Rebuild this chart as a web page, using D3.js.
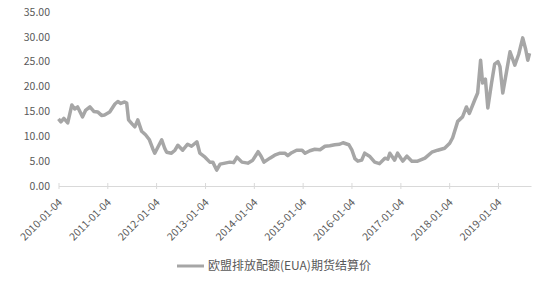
<!DOCTYPE html>
<html>
<head>
<meta charset="utf-8">
<script src="https://cdn.jsdelivr.net/npm/d3@7"></script>
<style>
  body { margin: 0; background: #fff; }
  text { font-family: "Noto Sans CJK SC", "Noto Sans", sans-serif; fill: #595959; }
</style>
</head>
<body>
<div id="viz"></div>
<script>
// EUA futures settlement price
var dates = ["2010-01-04","2010-01-22","2010-02-13","2010-03-14","2010-04-14","2010-05-05","2010-05-27","2010-07-03","2010-07-25","2010-08-27",
  "2010-09-25","2010-10-24","2010-11-22","2010-12-14","2011-01-22","2011-03-02","2011-03-24","2011-04-15","2011-05-14","2011-05-29",
  "2011-06-12","2011-07-08","2011-07-29","2011-08-20","2011-09-18","2011-10-17","2011-11-15","2011-12-10","2011-12-25","2012-01-17",
  "2012-02-15","2012-03-08","2012-03-23","2012-04-28","2012-05-24","2012-06-15","2012-07-21","2012-08-27","2012-09-25","2012-11-04",
  "2012-11-26","2013-01-04","2013-02-09","2013-03-03","2013-04-01","2013-04-27","2013-06-02","2013-07-08","2013-08-06","2013-08-31",
  "2013-10-07","2013-11-20","2013-12-27","2014-02-05","2014-02-27","2014-03-21","2014-05-04","2014-06-09","2014-07-19","2014-08-24",
  "2014-09-15","2014-10-14","2014-11-20","2014-12-31","2015-01-22","2015-02-27","2015-04-05","2015-05-14","2015-06-20","2015-07-26",
  "2015-09-01","2015-10-08","2015-11-02","2015-11-24","2015-12-16","2016-01-08","2016-01-30","2016-02-21","2016-03-21","2016-04-12",
  "2016-05-18","2016-06-26","2016-08-01","2016-09-10","2016-10-02","2016-10-17","2016-11-22","2016-12-14","2017-01-22","2017-02-22",
  "2017-03-31","2017-05-13","2017-07-07","2017-08-27","2017-10-10","2017-12-01","2018-01-08","2018-01-30","2018-03-09","2018-04-14",
  "2018-05-13","2018-06-04","2018-07-14","2018-08-05","2018-08-27","2018-09-11","2018-10-02","2018-10-20","2018-11-17","2018-12-10",
  "2019-01-04","2019-01-19","2019-02-09","2019-03-09","2019-04-04","2019-05-10","2019-06-08","2019-07-08","2019-07-30","2019-08-15",
  "2019-08-28"];
var prices = [13.5,12.9,13.6,12.7,16.3,15.5,15.9,13.9,15.2,15.9,
  15.0,14.9,14.2,14.3,14.9,16.5,17.0,16.6,16.9,16.7,
  13.3,12.5,11.9,13.3,11.0,10.3,9.3,7.5,6.6,7.8,
  9.3,7.6,6.8,6.6,7.2,8.2,7.2,8.4,8.0,8.9,
  6.6,5.8,4.8,4.8,3.2,4.4,4.6,4.8,4.7,5.8,
  4.8,4.6,5.2,6.9,6.0,4.8,5.6,6.2,6.6,6.6,
  6.1,6.7,7.2,7.2,6.6,7.1,7.4,7.3,8.0,8.1,
  8.3,8.4,8.7,8.5,8.3,7.2,5.5,5.0,5.2,6.6,
  6.0,4.8,4.5,5.6,5.4,6.6,5.2,6.6,5.0,6.0,
  5.0,5.0,5.6,6.8,7.2,7.6,8.6,9.7,13.0,13.9,
  15.9,14.6,17.3,18.7,25.3,20.7,21.5,15.7,20.7,24.5,
  25.0,24.0,18.7,23.0,27.0,24.3,26.5,29.8,27.5,25.3,
  26.7];
var tickDates = ["2010-01-04","2011-01-04","2012-01-04","2013-01-04","2014-01-04",
  "2015-01-04","2016-01-04","2017-01-04","2018-01-04","2019-01-04"];
var yTicks = [0, 5, 10, 15, 20, 25, 30, 35];
var seriesName = "欧盟排放配额(EUA)期货结算价";

var width = 544;
var height = 285;
var parse = d3.timeParse("%Y-%m-%d");

var data = dates.map(function(d, i){ return {date: parse(d), value: prices[i]}; });

var xScale = d3.scaleTime()
  .domain([parse("2010-01-04"), parse("2019-09-08")])
  .range([58.5, 531]);
var yScale = d3.scaleLinear()
  .domain([0, 35])
  .range([186, 12]);

var svg = d3.select('#viz')
  .append('svg')
  .attr('width', width)
  .attr('height', height);

// y labels, no axis line
svg.append("g")
  .selectAll("text")
  .data(yTicks)
  .join("text")
  .attr("x", 50)
  .attr("y", d => yScale(d))
  .attr("dy", "0.35em")
  .attr("text-anchor", "end")
  .style("font-size", "10.5px")
  .text(d => d.toFixed(2));

// x axis
var xAxis = svg.append("g")
  .attr("transform", "translate(0,186)")
  .call(d3.axisBottom(xScale)
    .tickValues(tickDates.map(parse))
    .tickSize(3)
    .tickSizeOuter(0)
    .tickFormat(d3.timeFormat("%Y-%m-%d")));
xAxis.select(".domain").attr("stroke", "#d9d9d9");
xAxis.selectAll(".tick line").attr("stroke", "#d9d9d9").attr("y1", -3);
xAxis.selectAll(".tick text")
  .attr("fill", "#595959")
  .style("font-size", "10.5px")
  .attr("text-anchor", "end")
  .attr("dy", null)
  .attr("y", 0)
  .attr("transform", "translate(4,17) rotate(-45)");

// price line
var line = d3.line()
  .x(d => xScale(d.date))
  .y(d => yScale(d.value));

svg.append("path")
  .datum(data)
  .attr("fill", "none")
  .attr("stroke", "#a6a6a6")
  .attr("stroke-width", 3.5)
  .attr("stroke-linejoin", "round")
  .attr("d", line);

// legend
var legend = svg.append("g").attr("transform", "translate(177,266)");
legend.append("line")
  .attr("x1", 0).attr("x2", 27)
  .attr("stroke", "#a6a6a6")
  .attr("stroke-width", 3);
legend.append("text")
  .attr("x", 31)
  .attr("dy", "0.35em")
  .style("font-size", "12px")
  .text(seriesName);
</script>
</body>
</html>
